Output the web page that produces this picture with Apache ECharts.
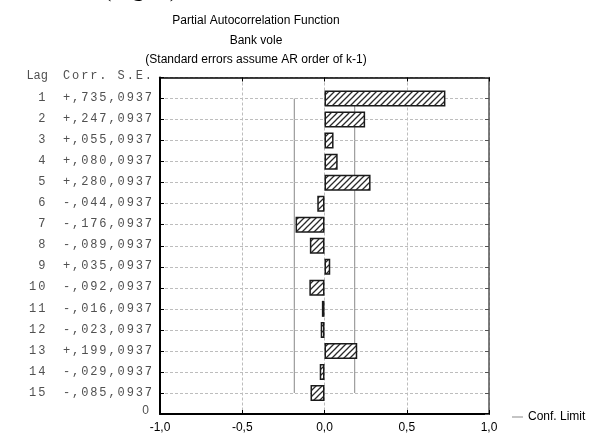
<!DOCTYPE html>
<html><head><meta charset="utf-8">
<script src="https://cdn.jsdelivr.net/npm/echarts@6/dist/echarts.min.js"></script>
<style>html,body{margin:0;padding:0;background:#fff}#c{width:593px;height:435px}</style>
</head><body><div id="c"></div><script>
const titleLines = ['Partial Autocorrelation Function', 'Bank vole', '(Standard errors assume AR order of k-1)'];
const clippedCaption = '(Fig. 2)';
const lags = [1, 2, 3, 4, 5, 6, 7, 8, 9, 10, 11, 12, 13, 14, 15];
const corr = [0.735, 0.247, 0.055, 0.080, 0.280, -0.044, -0.176, -0.089, 0.035, -0.092, -0.016, -0.023, 0.199, -0.029, -0.085];
const se = [0.0937, 0.0937, 0.0937, 0.0937, 0.0937, 0.0937, 0.0937, 0.0937, 0.0937, 0.0937, 0.0937, 0.0937, 0.0937, 0.0937, 0.0937];
const confLimit = [0.1837, 0.1837, 0.1837, 0.1837, 0.1837, 0.1837, 0.1837, 0.1837, 0.1837, 0.1837, 0.1837, 0.1837, 0.1837, 0.1837, 0.1837];
const headerLag = 'Lag';
const headerCorr = 'Corr. S.E.';
const zeroLabel = '0';
const legendName = 'Conf. Limit';
const xMin = -1, xMax = 1, xInterval = 0.5;

const yCats = [zeroLabel].concat(lags.slice().reverse().map(String)).concat([headerLag]);
function catIndexOfLag(l) { return yCats.indexOf(String(l)); }

// hatch pattern
const pc = document.createElement('canvas');
pc.width = 6; pc.height = 6;
const g = pc.getContext('2d');
g.fillStyle = '#fff'; g.fillRect(0, 0, 6, 6);
g.strokeStyle = '#2a2a2a'; g.lineWidth = 1.3;
g.beginPath();
g.moveTo(-1, 7); g.lineTo(7, -1);
g.moveTo(-1, 1); g.lineTo(1, -1);
g.moveTo(5, 7); g.lineTo(7, 5);
g.stroke();

const barData = yCats.map(c => {
  const i = (c === headerLag || c === zeroLabel) ? -1 : lags.indexOf(Number(c));
  return i < 0 ? '-' : corr[i];
});
const upper = lags.map((l, i) => [confLimit[i], catIndexOfLag(l)]);
const lower = lags.map((l, i) => [-confLimit[i], catIndexOfLag(l)]);

function cells(str, st) { return str.split('').map(ch => '{' + (st || 'd') + '|' + ch + '}').join(''); }
function fmtFrac(v, digits) { return Math.abs(v).toFixed(digits).replace('0.', ','); }

const mono = 'Liberation Mono';
const sans = 'Liberation Sans';
const cw = 9.1;
const monoColor = '#505050';

const chart = echarts.init(document.getElementById('c'), null, { renderer: 'canvas' });
chart.setOption({
  animation: false,
  backgroundColor: '#fff',
  graphic: [
    { type: 'text', x: 103, y: -11, style: { text: clippedCaption, font: '25px "Liberation Serif"', fill: '#000', textAlign: 'left', textVerticalAlign: 'middle', align: 'left', verticalAlign: 'middle' } },
    { type: 'text', x: 256, y: 21, style: { text: titleLines[0], font: '12px "Liberation Sans"', fill: '#000', textAlign: 'center', textVerticalAlign: 'middle', align: 'center', verticalAlign: 'middle' } },
    { type: 'text', x: 256, y: 40.3, style: { text: titleLines[1], font: '12px "Liberation Sans"', fill: '#000', textAlign: 'center', textVerticalAlign: 'middle', align: 'center', verticalAlign: 'middle' } },
    { type: 'text', x: 256, y: 59.6, style: { text: titleLines[2], font: '12px "Liberation Sans"', fill: '#000', textAlign: 'center', textVerticalAlign: 'middle', align: 'center', verticalAlign: 'middle' } }
  ],
  legend: {
    left: 507, top: 406,
    icon: 'rect', itemWidth: 11, itemHeight: 1, itemGap: 4,
    textStyle: { fontFamily: sans, fontSize: 12, color: '#000' },
    data: [legendName]
  },
  grid: { left: 160, right: 104, top: 77.5, bottom: 21, containLabel: false },
  xAxis: [
    {
      type: 'value', min: xMin, max: xMax, interval: xInterval, position: 'bottom',
      axisLine: { show: true, onZero: false, lineStyle: { color: '#000', width: 2 } },
      axisTick: { show: true, inside: true, length: 4, lineStyle: { color: '#000' } },
      axisLabel: { margin: 8, fontFamily: sans, fontSize: 12, color: '#000', formatter: v => v.toFixed(1).replace('.', ',') },
      splitLine: { show: true, lineStyle: { color: '#bdbdbd', type: [3, 2], width: 1 } }
    },
    {
      type: 'value', min: xMin, max: xMax, interval: xInterval, position: 'top',
      axisLine: { show: true, onZero: false, lineStyle: { color: '#000', width: 1.5 } },
      axisTick: { show: true, inside: true, length: 4, lineStyle: { color: '#000' } },
      axisLabel: { show: false }, splitLine: { show: false }
    }
  ],
  yAxis: [
    {
      type: 'category', data: yCats, boundaryGap: false, position: 'left',
      axisLine: { show: true, onZero: false, lineStyle: { color: '#000', width: 2 } },
      axisTick: { show: true, inside: true, length: 4, interval: 0, lineStyle: { color: '#000' } },
      splitLine: { show: true, interval: 0, lineStyle: { color: '#bdbdbd', type: [3, 2], width: 1 } },
      axisLabel: {
        interval: 0, margin: 7, align: 'right',
        formatter: function (v) {
          if (v === headerLag) return '{h|' + headerLag + '}{hg| }' + cells(headerCorr, 'e');
          if (v === zeroLabel) return '{z|' + zeroLabel + '}';
          const i = lags.indexOf(Number(v));
          const lagStr = String(lags[i]).padStart(2, ' ');
          const c = corr[i];
          const cs = (c >= 0 ? '+' : '-') + fmtFrac(c, 3);
          const ss = fmtFrac(se[i], 4);
          return cells(lagStr) + '{g| }' + cells(cs + ss);
        },
        rich: {
          d: { width: cw, align: 'center', fontFamily: mono, fontSize: 12, color: monoColor, padding: [0, 0, 1, 0] },
          e: { width: cw, align: 'center', fontFamily: mono, fontSize: 12, color: monoColor, padding: [0, 0, 3, 0] },
          g: { width: 15.7, fontFamily: mono, fontSize: 12, padding: [0, 0, 1, 0] },
          hg: { width: 15.7, fontFamily: mono, fontSize: 12, padding: [0, 0, 3, 0] },
          h: { width: 2 * cw, align: 'center', fontFamily: mono, fontSize: 12, color: monoColor, padding: [0, 0, 3, 0] },
          z: { fontFamily: sans, fontSize: 12, color: monoColor, padding: [0, 4, 7, 0] }
        }
      }
    },
    {
      type: 'category', data: yCats, boundaryGap: false, position: 'right',
      axisLine: { show: true, onZero: false, lineStyle: { color: '#555', width: 1.5 } },
      axisTick: { show: true, inside: true, length: 4, interval: 0, lineStyle: { color: '#555' } },
      axisLabel: { show: false }, splitLine: { show: false }
    }
  ],
  series: [
    {
      name: legendName, type: 'line', xAxisIndex: 0, yAxisIndex: 0, data: upper,
      showSymbol: false, symbol: 'none', z: 2, color: '#888',
      lineStyle: { color: '#888', width: 1 }
    },
    {
      name: legendName, type: 'line', xAxisIndex: 0, yAxisIndex: 0, data: lower,
      showSymbol: false, symbol: 'none', z: 2, color: '#888',
      lineStyle: { color: '#888', width: 1 }
    },
    {
      name: 'PACF', type: 'bar', xAxisIndex: 0, yAxisIndex: 0, data: barData,
      barWidth: 16, z: 3,
      itemStyle: { color: { image: pc, repeat: 'repeat' }, borderColor: '#1a1a1a', borderWidth: 1.5 }
    }
  ]
});
</script></body></html>
